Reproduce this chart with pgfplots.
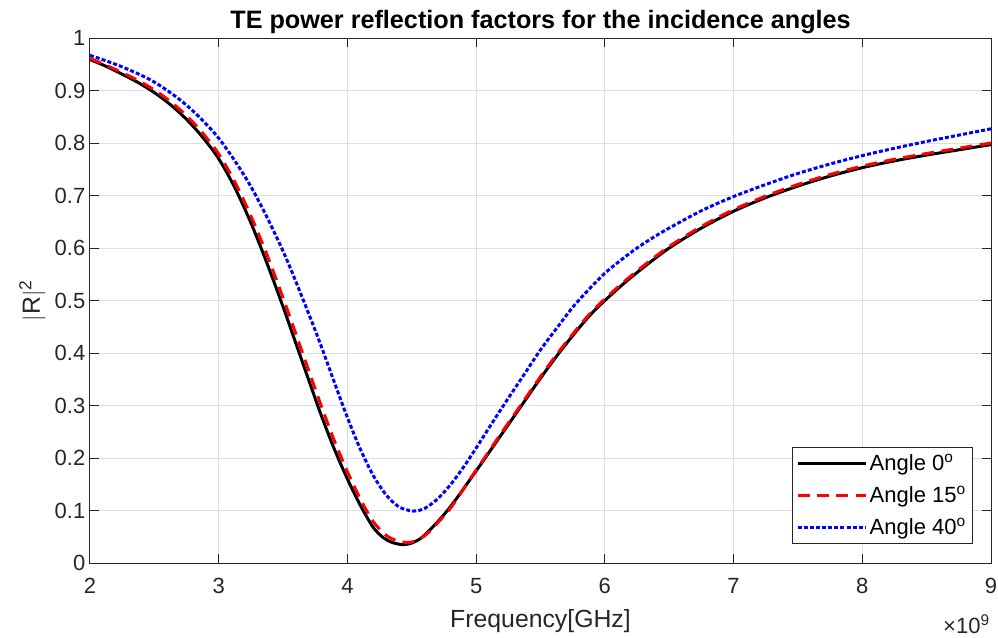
\documentclass[border=0pt]{standalone}
\usepackage{pgfplots}
\pgfplotsset{compat=1.18}
\usepackage{fontspec}
\setmainfont{Liberation Sans}
\definecolor{axgray}{gray}{0.15}
\definecolor{gridgray}{gray}{0.87}
\begin{document}
\begin{tikzpicture}
\useasboundingbox (-67.5pt,-55.5pt) rectangle (681pt,422.25pt);
\begin{axis}[
  at={(0pt,0pt)}, anchor=south west,
  scale only axis,
  width=675.75pt, height=393.75pt,
  xmin=2, xmax=9, ymin=0, ymax=1,
  xtick={2,3,4,5,6,7,8,9},
  ytick={0,0.1,0.2,0.3,0.4,0.5,0.6,0.7,0.8,0.9,1},
  yticklabels={0,0.1,0.2,0.3,0.4,0.5,0.6,0.7,0.8,0.9,1},
  /pgf/number format/assume math mode=true,
  tick label style={font=\fontsize{16.5}{18}\selectfont, text=axgray},
  xticklabel style={yshift=-8pt},
  grid=major,
  major grid style={gridgray, line width=0.75pt},
  axis line style={axgray, line width=0.75pt},
  major tick length=6.5pt,
  tick style={axgray, line width=0.75pt},
  tick align=inside,
  xtick pos=both, ytick pos=both,
  xlabel={Frequency[GHz]},
  xlabel style={at={(axis description cs:0.5,0)}, anchor=base, yshift=-48pt, font=\fontsize{18.6}{20}\selectfont, text=axgray},
  ylabel={$|$R$|$\textsuperscript{2}},
  ylabel style={font=\fontsize{18.6}{20}\selectfont, text=axgray},
  legend style={at={(0.98,0.036)}, anchor=south east, draw=axgray, line width=0.75pt,
    font=\fontsize{16.5}{18}\selectfont, fill=white, inner sep=3pt, row sep=6pt},
  legend cell align=left,
  legend image code/.code={\draw[#1] (0pt,0pt) -- (51pt,0pt);},
]
\addplot[black, line width=2.25pt, smooth] coordinates {
(2.000,0.959) (2.125,0.946) (2.250,0.931) (2.375,0.915) (2.500,0.896) (2.625,0.873)
(2.750,0.845) (2.875,0.811) (3.000,0.770) (3.125,0.715) (3.250,0.648) (3.375,0.571)
(3.500,0.488) (3.600,0.418) (3.700,0.348) (3.800,0.279) (3.900,0.216) (4.000,0.160)
(4.100,0.110) (4.200,0.068) (4.280,0.048) (4.350,0.039) (4.430,0.035) (4.500,0.038)
(4.570,0.047) (4.640,0.063) (4.710,0.081) (4.780,0.101) (4.860,0.127) (4.950,0.158)
(5.070,0.200) (5.200,0.246) (5.350,0.299) (5.500,0.352) (5.650,0.402) (5.800,0.448)
(5.900,0.476) (6.000,0.500) (6.150,0.533) (6.300,0.563) (6.500,0.600) (6.750,0.638)
(7.000,0.670) (7.250,0.696) (7.500,0.718) (7.750,0.737) (8.000,0.753) (8.250,0.766)
(8.500,0.777) (8.750,0.787) (9.000,0.797)
};
\addlegendentry{Angle 0\textsuperscript{o}}
\addplot[red, line width=2.25pt, dash pattern=on 9pt off 5.5pt, smooth] coordinates {
(2.000,0.961) (2.125,0.948) (2.250,0.934) (2.375,0.919) (2.500,0.901) (2.625,0.879)
(2.750,0.852) (2.875,0.819) (3.000,0.779) (3.125,0.726) (3.250,0.661) (3.375,0.587)
(3.500,0.505) (3.600,0.436) (3.700,0.366) (3.800,0.297) (3.900,0.232) (4.000,0.174)
(4.100,0.122) (4.200,0.079) (4.300,0.053) (4.380,0.043) (4.470,0.039) (4.550,0.044)
(4.630,0.058) (4.710,0.079) (4.790,0.101) (4.870,0.129) (4.950,0.159) (5.070,0.202)
(5.200,0.249) (5.350,0.302) (5.500,0.355) (5.650,0.405) (5.800,0.451) (5.900,0.479)
(6.000,0.503) (6.150,0.536) (6.300,0.566) (6.500,0.603) (6.750,0.641) (7.000,0.673)
(7.250,0.699) (7.500,0.721) (7.750,0.740) (8.000,0.756) (8.250,0.769) (8.500,0.780)
(8.750,0.790) (9.000,0.800)
};
\addlegendentry{Angle 15\textsuperscript{o}}
\addplot[blue, line width=2.25pt, dash pattern=on 3pt off 1.6pt, smooth] coordinates {
(2.000,0.967) (2.250,0.945) (2.500,0.916) (2.750,0.872) (3.000,0.809) (3.250,0.717)
(3.500,0.594) (3.750,0.443) (3.900,0.343) (4.000,0.277) (4.100,0.217) (4.200,0.167)
(4.300,0.130) (4.400,0.107) (4.510,0.099) (4.600,0.104) (4.700,0.122) (4.800,0.149)
(4.900,0.182) (5.000,0.219) (5.125,0.267) (5.250,0.314) (5.375,0.360) (5.500,0.406)
(5.625,0.447) (5.750,0.487) (5.875,0.521) (6.000,0.552) (6.125,0.577) (6.250,0.600)
(6.375,0.620) (6.500,0.638) (6.750,0.671) (7.000,0.698) (7.250,0.721) (7.500,0.742)
(7.750,0.760) (8.000,0.776) (8.250,0.790) (8.500,0.803) (8.750,0.815) (9.000,0.827)
};
\addlegendentry{Angle 40\textsuperscript{o}}
\end{axis}
\node[anchor=base, inner sep=0pt, font=\fontsize{18.9}{20}\selectfont\bfseries] at (337.9pt,401pt) {TE power reflection factors for the incidence angles};
\node[anchor=base east, inner sep=0pt, text=axgray, font=\fontsize{16.5}{18}\selectfont] at (675pt,-53pt) {×10\textsuperscript{9}};
\end{tikzpicture}
\end{document}
